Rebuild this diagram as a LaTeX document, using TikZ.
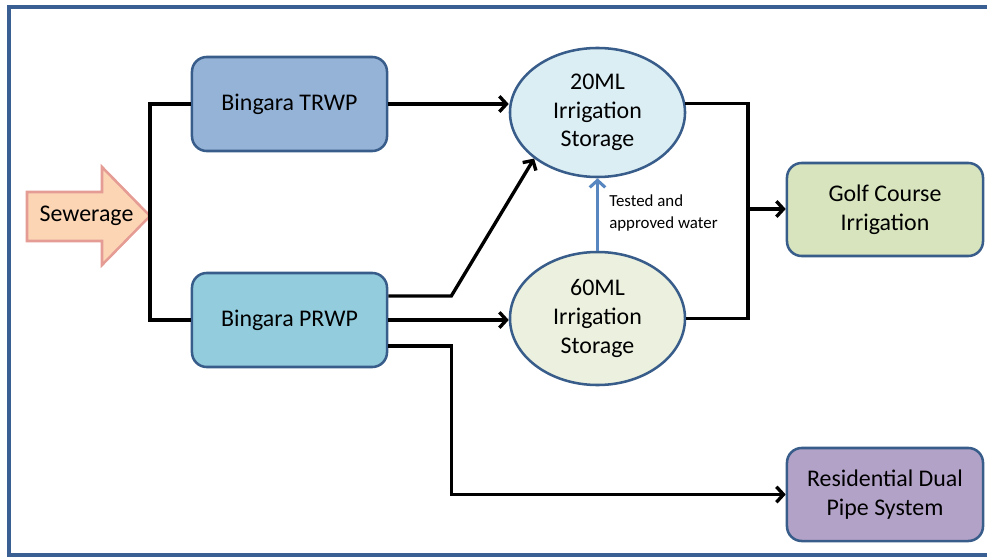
\documentclass[tikz,border=0pt]{standalone}
\usepackage{fontspec}
\setmainfont{Carlito}
\usetikzlibrary{arrows.meta,shapes.geometric}
\definecolor{frameblue}{RGB}{58,96,147}
\definecolor{edgeblue}{RGB}{56,93,138}
\definecolor{trwpblue}{RGB}{149,179,215}
\definecolor{prwpblue}{RGB}{147,205,221}
\definecolor{tankblue}{RGB}{219,238,244}
\definecolor{tankgreen}{RGB}{235,241,222}
\definecolor{golfgreen}{RGB}{215,228,189}
\definecolor{dualpurple}{RGB}{179,162,199}
\definecolor{sewerfill}{RGB}{252,213,181}
\definecolor{sewerline}{RGB}{229,156,148}
\definecolor{testblue}{RGB}{88,134,193}
\tikzset{%
    plant/.style={%
        draw=edgeblue, line width=1.8pt, rounded corners=10.5pt,
        minimum width=4.875cm, minimum height=2.35cm, align=center,
        font=\fontsize{17}{20.4}\selectfont
    },
    tank/.style={%
        ellipse, draw=edgeblue, line width=1.8pt, inner sep=0pt,
        minimum width=4.375cm, align=center,
        font=\fontsize{17}{20.4}\selectfont
    },
    pipe/.style={line width=2.4pt, black},
    flow/.style={pipe, -{Straight Barb[length=5pt,width=11pt]}}
}

\begin{document}
\begin{tikzpicture}[x=0.025cm, y=-0.025cm]
    \useasboundingbox (0,0) rectangle (987,558);
    \draw[line width=3.5pt, color=frameblue] (9,7) rectangle (1020,555);
    % sewerage block arrow
    \filldraw[fill=sewerfill, draw=sewerline, line width=1.8pt, line join=miter]
        (27,192) -- (102,192) -- (102,167) -- (150,216) -- (102,265) -- (102,241) -- (27,241) -- cycle;
    \coordinate (sewertip) at (150,216);
    \node[font=\fontsize{17}{20.4}\selectfont] (sewerage) at (86.5,216) {Sewerage};
    % plants
    \node[plant, fill=trwpblue] (trwp) at (289.5,104) {Bingara TRWP};
    \node[plant, fill=prwpblue] (prwp) at (289.5,320) {Bingara PRWP};
    % storages
    \node[tank, fill=tankblue, minimum height=3.225cm] (tank20) at (597.5,112.5) {20ML\\Irrigation\\Storage};
    \node[tank, fill=tankgreen, minimum height=3.325cm] (tank60) at (597.5,318.5) {60ML\\Irrigation\\Storage};
    % users
    \node[plant, fill=golfgreen, minimum width=4.9cm, minimum height=2.325cm] (golf) at (885,209.5) {Golf Course\\Irrigation};
    \node[plant, fill=dualpurple, minimum width=4.9cm, minimum height=2.325cm] (dual) at (885,494.5) {Residential Dual\\Pipe System};
    \node[align=left, inner sep=0pt, anchor=west, font=\fontsize{12}{15}\selectfont] (tested) at (609,213) {Tested and\\approved water};
    \coordinate (join) at (748,209);
    % pipes
    \draw[pipe] (trwp.west) -| (sewertip) |- (prwp.west);
    \draw[flow] (trwp.east) -- (trwp.east -| tank20.west);
    \draw[flow] ([yshift=0.6cm]prwp.east) -- ++(1.575cm,0) -- (tank20.216);
    \draw[flow] (prwp.east) -- (prwp.east -| tank60.west);
    \draw[flow] ([yshift=-0.65cm]prwp.east) -- ++(1.575cm,0) |- (dual.west);
    \draw[pipe] (tank20.6) -| (join) |- (tank60.east);
    \draw[flow] (join) -- (join -| golf.west);
    \draw[line width=2.2pt, color=testblue, -{Straight Barb[length=5pt,width=11pt]}] (tank60.north) -- (tank20.south);
\end{tikzpicture}
\end{document}
